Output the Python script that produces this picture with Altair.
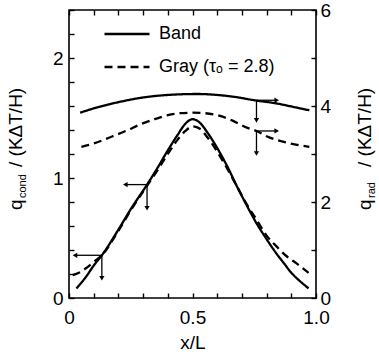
import altair as alt
import pandas as pd

# ---------------- data ----------------
series = ["Band", "Gray (τₒ = 2.8)"]

# conduction flux (left axis)
x_cond_band = [0.03, 0.07, 0.10, 0.133, 0.20, 0.25, 0.316, 0.36, 0.40, 0.44, 0.47, 0.50,
               0.53, 0.56, 0.60, 0.64, 0.68, 0.72, 0.76, 0.80, 0.84, 0.87, 0.90, 0.93, 0.97]
q_cond_band = [0.08, 0.18, 0.27, 0.356, 0.57, 0.74, 0.945, 1.09, 1.23, 1.36, 1.45, 1.49,
               1.46, 1.38, 1.25, 1.10, 0.93, 0.77, 0.62, 0.49, 0.37, 0.29, 0.21, 0.15, 0.08]

x_cond_gray = [0.015, 0.04, 0.07, 0.10, 0.133, 0.20, 0.25, 0.316, 0.36, 0.40, 0.44, 0.47, 0.50,
               0.53, 0.56, 0.60, 0.64, 0.68, 0.72, 0.76, 0.80, 0.84, 0.88, 0.92, 0.97]
q_cond_gray = [0.19, 0.21, 0.25, 0.30, 0.356, 0.56, 0.73, 0.935, 1.07, 1.20, 1.32, 1.39, 1.43,
               1.41, 1.34, 1.22, 1.08, 0.93, 0.78, 0.65, 0.52, 0.43, 0.35, 0.29, 0.21]

# radiative flux (right axis)
x_rad_band = [0.045, 0.10, 0.15, 0.20, 0.29, 0.40, 0.52, 0.60, 0.67, 0.75, 0.844, 0.90, 0.973]
q_rad_band = [3.86, 3.95, 4.02, 4.08, 4.17, 4.23, 4.25, 4.23, 4.19, 4.12, 4.05, 3.99, 3.91]

x_rad_gray = [0.05, 0.10, 0.167, 0.23, 0.29, 0.35, 0.40, 0.45, 0.50, 0.55, 0.60, 0.66,
              0.72, 0.759, 0.80, 0.88, 0.973]
q_rad_gray = [3.15, 3.22, 3.35, 3.48, 3.62, 3.73, 3.81, 3.85, 3.86, 3.85, 3.81, 3.70,
              3.55, 3.48, 3.37, 3.24, 3.15]

# axis-pointer arrows: start point, end of horizontal arrow, end of vertical arrow
arrow_cond_x = [0.133, 0.316]
arrow_cond_y = [0.356, 0.945]
arrow_cond_hx = [0.024, 0.228]
arrow_cond_vy = [0.164, 0.748]

arrow_rad_x = [0.759, 0.759]
arrow_rad_y = [4.12, 3.48]
arrow_rad_hx = [0.841, 0.841]
arrow_rad_vy = [3.70, 3.01]

x_ticks = [0, 0.1, 0.2, 0.3, 0.4, 0.5, 0.6, 0.7, 0.8, 0.9, 1.0]
left_ticks = [0, 0.2, 0.4, 0.6, 0.8, 1.0, 1.2, 1.4, 1.6, 1.8, 2.0, 2.2, 2.4]
right_ticks = [0, 1, 2, 3, 4, 5, 6]

# ---------------- tables ----------------
cond_df = pd.concat([
    pd.DataFrame({"x": x_cond_band, "y": q_cond_band, "series": series[0]}),
    pd.DataFrame({"x": x_cond_gray, "y": q_cond_gray, "series": series[1]}),
])
rad_df = pd.concat([
    pd.DataFrame({"x": x_rad_band, "y": q_rad_band, "series": series[0]}),
    pd.DataFrame({"x": x_rad_gray, "y": q_rad_gray, "series": series[1]}),
])


def arrow_tables(xs, ys, hxs, vys, hshape):
    rules, heads = [], []
    for x0, y0, hx, vy in zip(xs, ys, hxs, vys):
        rules.append({"x": x0, "x2": hx, "y": y0, "y2": y0})
        rules.append({"x": x0, "x2": x0, "y": y0, "y2": vy})
        heads.append({"x": hx, "y": y0, "shape": hshape})
        heads.append({"x": x0, "y": vy, "shape": "triangle-down"})
    return pd.DataFrame(rules), pd.DataFrame(heads)


cond_rules, cond_heads = arrow_tables(arrow_cond_x, arrow_cond_y, arrow_cond_hx, arrow_cond_vy, "triangle-left")
rad_rules, rad_heads = arrow_tables(arrow_rad_x, arrow_rad_y, arrow_rad_hx, arrow_rad_vy, "triangle-right")

FONT = "Liberation Sans"
xs = alt.Scale(domain=[0, 1], nice=False, zero=False)
yl = alt.Scale(domain=[0, 2.4], nice=False, zero=False)
yr = alt.Scale(domain=[0, 6], nice=False, zero=False)
dash = alt.Scale(domain=series, range=[[1, 0], [8, 5]])

x_bottom = alt.Axis(
    orient="bottom", values=x_ticks, offset=-5, tickSize=5, labelPadding=10,
    labelFlush=False, labelOverlap=False, title="x/L", titlePadding=6,
    labelExpr="abs(datum.value) < 0.001 ? '0' : (abs(datum.value - 0.5) < 0.001 ? '0.5' : (abs(datum.value - 1) < 0.001 ? '1.0' : ''))",
)
x_top = alt.Axis(orient="top", values=x_ticks, offset=-5, tickSize=5, labels=False, title=None)
y_left = alt.Axis(
    orient="left", values=left_ticks, offset=-5, tickSize=5, labelPadding=6, title=None,
    labelOverlap=False,
    labelExpr="abs(datum.value - round(datum.value)) < 0.001 ? format(datum.value, 'd') : ''",
)
y_right = alt.Axis(
    orient="right", values=right_ticks, offset=-5, tickSize=5, labelPadding=4, title=None,
    labelOverlap=False, labelExpr="datum.value % 2 == 0 ? datum.label : ''",
)

legend = alt.Legend(
    title=None, orient="none", legendX=34, legendY=0, symbolType="stroke",
    symbolSize=2025, symbolStrokeWidth=2.3, symbolStrokeColor="black",
    labelFontSize=18, labelFont=FONT, labelColor="black", labelOffset=8,
    rowPadding=-17, padding=0,
)

cond_line = alt.Chart(cond_df).mark_line(color="black", strokeWidth=2.3, interpolate="monotone").encode(
    x=alt.X("x:Q", scale=xs, axis=x_bottom),
    y=alt.Y("y:Q", scale=yl, axis=y_left),
    strokeDash=alt.StrokeDash("series:N", scale=dash, legend=legend),
    order="x:Q",
)
cond_rule = alt.Chart(cond_rules).mark_rule(color="black", strokeWidth=1.3).encode(
    x=alt.X("x:Q", scale=xs, axis=None), x2="x2:Q",
    y=alt.Y("y:Q", scale=yl, axis=None), y2="y2:Q",
)
cond_head = alt.Chart(cond_heads).mark_point(filled=True, color="black", size=28, opacity=1).encode(
    x=alt.X("x:Q", scale=xs, axis=None),
    y=alt.Y("y:Q", scale=yl, axis=None),
    shape=alt.Shape("shape:N", scale=None),
)

rad_line = alt.Chart(rad_df).mark_line(color="black", strokeWidth=2.3, interpolate="monotone").encode(
    x=alt.X("x:Q", scale=xs, axis=x_top),
    y=alt.Y("y:Q", scale=yr, axis=y_right),
    strokeDash=alt.StrokeDash("series:N", scale=dash, legend=legend),
    order="x:Q",
)
rad_rule = alt.Chart(rad_rules).mark_rule(color="black", strokeWidth=1.3).encode(
    x=alt.X("x:Q", scale=xs, axis=None), x2="x2:Q",
    y=alt.Y("y:Q", scale=yr, axis=None), y2="y2:Q",
)
rad_head = alt.Chart(rad_heads).mark_point(filled=True, color="black", size=28, opacity=1).encode(
    x=alt.X("x:Q", scale=xs, axis=None),
    y=alt.Y("y:Q", scale=yr, axis=None),
    shape=alt.Shape("shape:N", scale=None),
)

# rotated axis titles with subscripts (text annotations)
one = pd.DataFrame({"a": [0]})


def label(text, x, y, size):
    return alt.Chart(one).mark_text(
        text=text, angle=270, align="left", baseline="alphabetic",
        font=FONT, fontSize=size, color="black",
    ).encode(x=alt.value(x), y=alt.value(y))


chart = alt.layer(
    cond_line, cond_rule, cond_head, rad_line, rad_rule, rad_head,
    label("q", -47, 200, 19),
    label("cond", -43, 188, 11),
    label("/ (KΔT/H)", -47, 157, 19),
    label("q", 302, 200, 19),
    label("rad", 306, 188, 11),
    label("/ (KΔT/H)", 302, 157, 19),
).resolve_scale(y="independent").resolve_axis(
    x="independent", y="independent"
).properties(
    width=247, height=288,
    autosize=alt.AutoSizeParams(type="none"),
    padding={"left": 69, "top": 10, "right": 63, "bottom": 64},
    background="white",
).configure_view(stroke="black", strokeWidth=1.6).configure_axis(
    domain=False, grid=False, tickColor="black", tickWidth=1.4,
    labelFont=FONT, labelFontSize=19, labelColor="black",
    titleFont=FONT, titleFontSize=19, titleColor="black", titleFontWeight="normal",
)

chart.save("out.html", embed_options={"renderer": "svg", "actions": False})
